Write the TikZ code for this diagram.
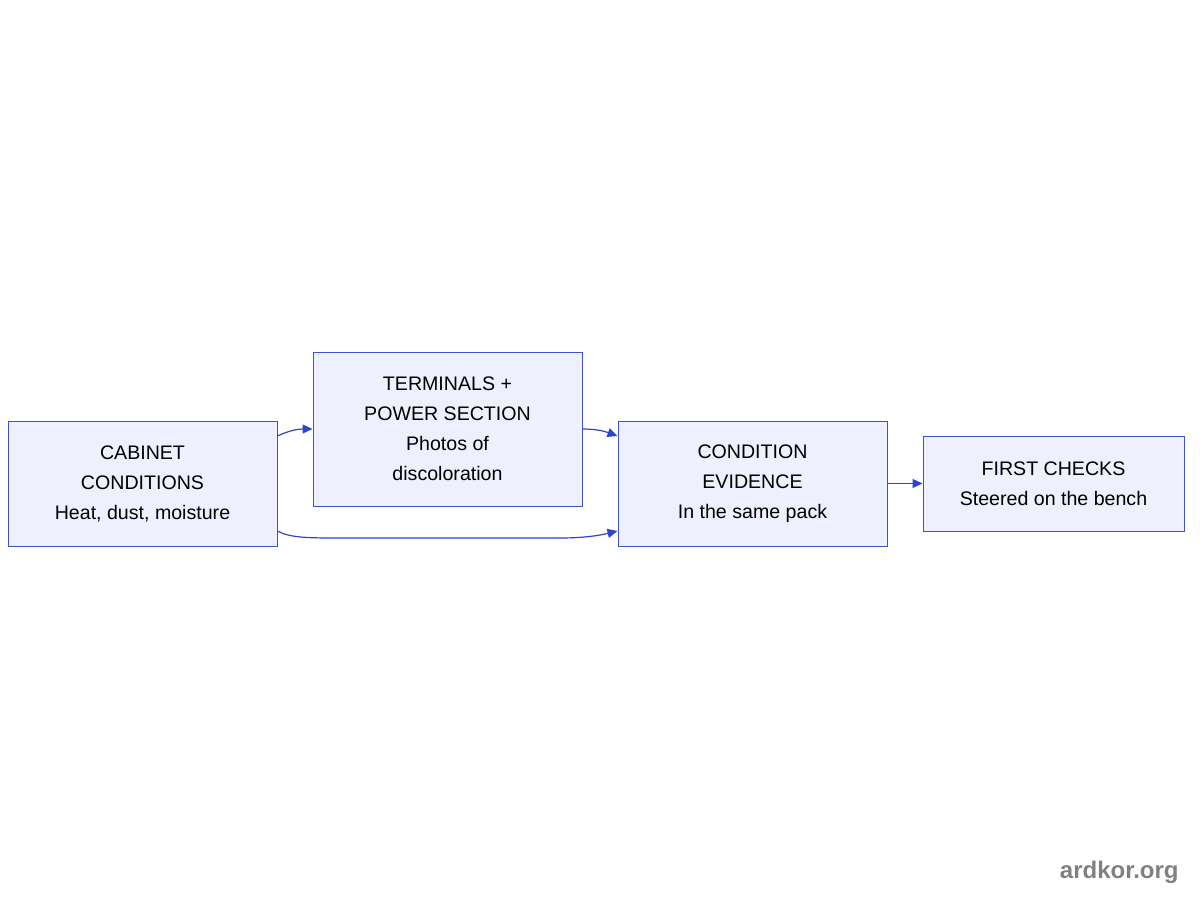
\documentclass[tikz,border=0pt]{standalone}
\usepackage{fontspec}
\setmainfont{Liberation Sans}
\usepackage{xcolor}
\usetikzlibrary{arrows.meta,positioning}
\definecolor{boxfill}{HTML}{EEF1FD}
\definecolor{boxline}{HTML}{3D52D5}
\definecolor{flowline}{HTML}{2A45D0}
\definecolor{markgray}{HTML}{808080}
\tikzset{
  stage/.style={draw=boxline,fill=boxfill,line width=0.5pt,align=center,
    minimum width=134.5pt,font=\fontsize{9.8}{15}\selectfont,inner sep=0pt},
  flow/.style={draw=flowline,line width=0.6pt,-{Triangle[length=5pt,width=4.5pt]}}
}
\begin{document}
\begin{tikzpicture}[x=0.5pt,y=-0.5pt]
\useasboundingbox (0,0) rectangle (1200,900);
\node[stage,minimum height=62.5pt] (cab) at (142.5,483.5) {CABINET\\CONDITIONS\\Heat, dust, moisture};
\node[stage,minimum height=77pt] (term) at (447.5,429) {TERMINALS +\\POWER SECTION\\Photos of\\discoloration};
\node[stage,minimum height=62.5pt] (cond) at (752.5,483.5) {CONDITION\\EVIDENCE\\In the same pack};
\node[stage,minimum width=130.5pt,minimum height=47.5pt] (first) at (1053.5,483.5) {FIRST CHECKS\\Steered on the bench};
% connectors
\draw[flow] ([yshift=23.75pt]cab.east) to[out=25,in=180] (term.west);
\draw[flow] (term.east) to[out=0,in=160] ([yshift=23.75pt]cond.west);
\draw[flow] ([yshift=-23.75pt]cab.east) .. controls (290,538) and (310,538) .. (340,538)
  -- (560,538) .. controls (590,538) and (605,534) .. ([yshift=-23.75pt]cond.west);
\draw[flow] (cond.east) -- (first.west);
% site mark
\node[anchor=east,text=markgray,font=\fontsize{12}{14}\selectfont\bfseries,inner sep=0pt] (mark) at (1179,872) {ardkor.org};
\end{tikzpicture}
\end{document}
